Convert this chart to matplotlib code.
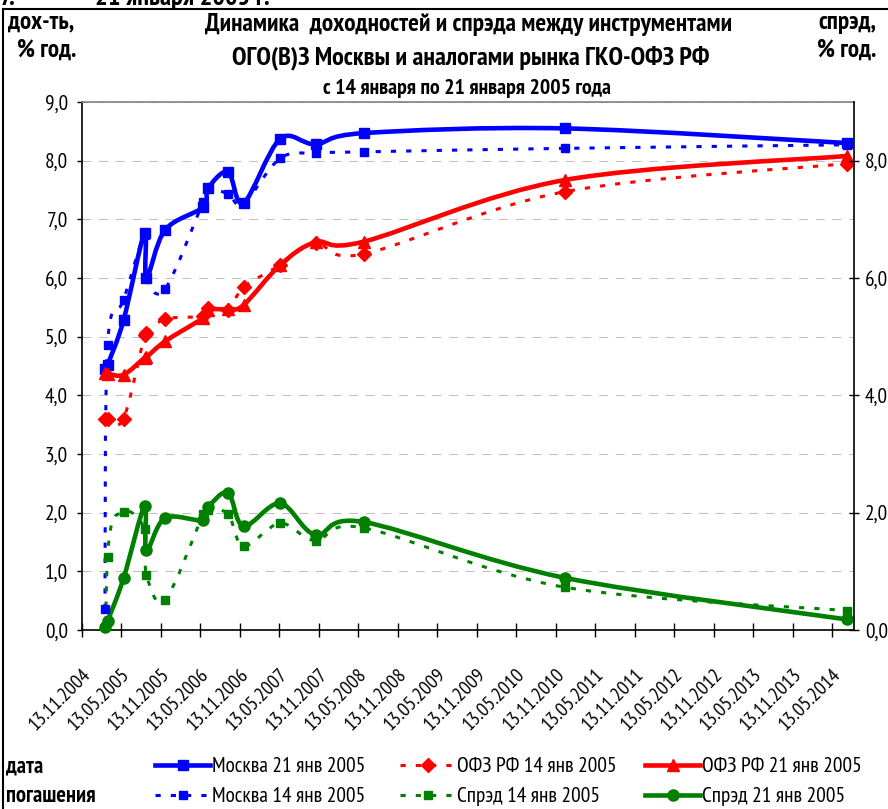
import matplotlib
matplotlib.use('Agg')
import matplotlib.pyplot as plt
import matplotlib.dates as mdates
from matplotlib.path import Path
from matplotlib.patches import PathPatch
from matplotlib.lines import Line2D
from matplotlib import font_manager
import matplotlib.transforms as mtransforms
import numpy as np
import pandas as pd

# ---------------- data ----------------
maturity_dates = ['2005-02-27', '2005-03-11', '2005-05-24', '2005-08-29', '2005-09-07',
                  '2005-12-02', '2006-05-27', '2006-06-19', '2006-09-19', '2006-11-30',
                  '2007-05-18', '2007-10-29', '2008-06-08', '2010-12-23', '2014-07-21']
moscow_21 = [4.45, 4.52, 5.28, 6.77, 6.00, 6.82, 7.21, 7.53, 7.81, 7.28, 8.37, 8.28, 8.47, 8.55, 8.30]
moscow_14 = [0.36, 4.86, 5.62, 6.73, 6.00, 5.81, 7.30, 7.53, 7.43, 7.27, 8.04, 8.13, 8.15, 8.21, 8.27]
ofz_14 = [3.60, 3.60, 3.60, 5.02, 5.06, 5.30, 5.35, 5.49, 5.46, 5.84, 6.22, 6.60, 6.41, 7.47, 7.95]
ofz_21 = [4.38, 4.37, 4.35, 4.64, 4.65, 4.92, 5.32, 5.46, 5.47, 5.54, 6.22, 6.61, 6.62, 7.67, 8.08]
spread_14 = [-3.25, 1.24, 2.01, 1.72, 0.94, 0.51, 1.97, 2.04, 1.98, 1.43, 1.82, 1.52, 1.74, 0.73, 0.33]
spread_21 = [0.05, 0.15, 0.88, 2.11, 1.36, 1.91, 1.87, 2.09, 2.34, 1.77, 2.16, 1.62, 1.84, 0.89, 0.18]

x_tick_labels = ['13.11.2004', '13.05.2005', '13.11.2005', '13.05.2006', '13.11.2006',
                 '13.05.2007', '13.11.2007', '13.05.2008', '13.11.2008', '13.05.2009',
                 '13.11.2009', '13.05.2010', '13.11.2010', '13.05.2011', '13.11.2011',
                 '13.05.2012', '13.11.2012', '13.05.2013', '13.11.2013', '13.05.2014']
x_min, x_max = '2004-11-13', '2014-08-22'
y_left_ticks = [0, 1, 2, 3, 4, 5, 6, 7, 8, 9]
y_right_ticks = [0, 2, 4, 6, 8]

# ---------------- fonts ----------------
names = {f.name for f in font_manager.fontManager.ttflist}
def pick(cands):
    for c in cands:
        if c in names:
            return c
    return 'DejaVu Sans'
NARROW = pick(['PT Sans Narrow', 'Roboto Condensed', 'Fira Sans Condensed', 'Liberation Sans'])
FAM = [NARROW, 'DejaVu Sans']
plt.rcParams['font.family'] = FAM

W, H = 888, 809
fig = plt.figure(figsize=(W / 100, H / 100), dpi=100)
renderer = fig.canvas.get_renderer()

def fx(px):
    return px / W

def fy(py):
    return 1 - py / H

def fit_size(s, target_px, weight='normal', base=20.0):
    t = fig.text(0, 0, s, fontsize=base, fontweight=weight, family=FAM)
    w = t.get_window_extent(renderer).width
    t.remove()
    return base * target_px / w

S_TITLE1 = fit_size('Динамика  доходностей и спрэда между инструментами', 528, 'bold')
S_TITLE2 = fit_size('ОГО(В)З Москвы и аналогами рынка ГКО-ОФЗ РФ', 478, 'bold')
S_TITLE3 = fit_size('с 14 января по 21 января 2005 года', 290, 'bold')
S_CORNER = fit_size('дох-ть,', 66, 'bold')
S_NOTE = fit_size('погашения', 90, 'bold')
S_LEG = fit_size('Москва 21 янв 2005', 153)
S_XT = fit_size('13.11.2004', 79)
S_YT = fit_size('9,0', 23)
S_TOP = fit_size('21 января 2005 г.', 175, 'bold')

ax = fig.add_axes([fx(82), fy(630), fx(854) - fx(82), fy(102) - fy(630)])
ax2 = ax.twinx()

xd = mdates.date2num(pd.to_datetime(maturity_dates))

def smooth_path(xs, ys):
    pts = np.column_stack([xs, ys]).astype(float)
    n = len(pts)
    verts = [pts[0]]
    codes = [Path.MOVETO]
    for i in range(n - 1):
        p0 = pts[max(i - 1, 0)]
        p1 = pts[i]
        p2 = pts[i + 1]
        p3 = pts[min(i + 2, n - 1)]
        c1 = p1 + (p2 - p0) / 6.0
        c2 = p2 - (p3 - p1) / 6.0
        verts += [c1, c2, p2]
        codes += [Path.CURVE4] * 3
    return Path(verts, codes)

BLUE, RED, GREEN = '#0000FF', '#FF0000', '#008000'
DOT = (0, (1.7, 3.3))

styles = [
    ('Москва 14 янв 2005', moscow_14, BLUE, 2.2, DOT, 's', 5.5),
    ('ОФЗ РФ 14 янв 2005', ofz_14, RED, 2.2, DOT, 'D', 7.5),
    ('Спрэд 14 янв 2005', spread_14, GREEN, 2.2, DOT, 's', 5.5),
    ('Москва 21 янв 2005', moscow_21, BLUE, 3.3, '-', 's', 6.5),
    ('ОФЗ РФ 21 янв 2005', ofz_21, RED, 3.3, '-', '^', 8.5),
    ('Спрэд 21 янв 2005', spread_21, GREEN, 3.3, '-', 'o', 8),
]
handles = {}
for label, vals, col, lw, ls, mk, ms in styles:
    patch = PathPatch(smooth_path(xd, vals), fill=False, edgecolor=col, lw=lw,
                      linestyle=ls, capstyle='butt', joinstyle='round', zorder=3)
    ax.add_patch(patch)
    y = np.array(vals, dtype=float)
    m = y >= 0
    ax.plot(xd[m], y[m], linestyle='none', marker=mk, ms=ms, color=col,
            mec=col, clip_on=False, zorder=4)
    handles[label] = Line2D([], [], color=col, lw=lw, linestyle=ls,
                            marker=mk, ms=ms, mec=col)

ax.set_xlim(mdates.date2num(pd.to_datetime(x_min)), mdates.date2num(pd.to_datetime(x_max)))
ax.set_ylim(0, 9)
ax2.set_ylim(0, 9)

tick_pos = mdates.date2num(pd.to_datetime(x_tick_labels, format='%d.%m.%Y'))
ax.set_xticks(tick_pos)
ax.set_xticklabels(x_tick_labels, rotation=45, ha='right', va='center',
                   rotation_mode='anchor', fontsize=S_XT)
ax.tick_params(axis='x', direction='inout', length=9.5, width=1, pad=25, colors='black')
offset = mtransforms.ScaledTranslation(6 / 100, 0, fig.dpi_scale_trans)
for lab in ax.get_xticklabels():
    lab.set_transform(lab.get_transform() + offset)

ax.set_yticks(y_left_ticks)
ax.set_yticklabels([f'{v:.1f}'.replace('.', ',') for v in y_left_ticks], fontsize=S_YT)
ax.tick_params(axis='y', direction='out', length=3.6, width=1, pad=6.5)

ax2.set_yticks(y_right_ticks)
ax2.set_yticklabels([f'{v:.1f}'.replace('.', ',') for v in y_right_ticks], fontsize=S_YT)
ax2.tick_params(axis='y', direction='inout', length=7.5, width=1, pad=4)

ax.grid(axis='y', color='#C0C0C0', linestyle=(0, (8.5, 7.5)), lw=0.75, zorder=0.5)
ax.set_axisbelow(True)

for s in ['left', 'bottom']:
    ax.spines[s].set_color('black')
    ax.spines[s].set_linewidth(1.2)
ax.spines['top'].set_color('#808080')
ax.spines['top'].set_linewidth(1.2)
ax.spines['right'].set_visible(False)
for s in ['left', 'bottom', 'top']:
    ax2.spines[s].set_visible(False)
ax2.spines['right'].set_color('black')
ax2.spines['right'].set_linewidth(1.2)

# ---------------- texts ----------------
bold = dict(fontweight='bold', color='black')
fig.text(fx(469), fy(25), 'Динамика  доходностей и спрэда между инструментами',
         ha='center', va='center', fontsize=S_TITLE1, **bold)
fig.text(fx(471), fy(58), 'ОГО(В)З Москвы и аналогами рынка ГКО-ОФЗ РФ',
         ha='center', va='center', fontsize=S_TITLE2, **bold)
fig.text(fx(467), fy(88), 'с 14 января по 21 января 2005 года',
         ha='center', va='center', fontsize=S_TITLE3, **bold)
fig.text(fx(8), fy(22), 'дох-ть,', ha='left', va='center', fontsize=S_CORNER, **bold)
fig.text(fx(17), fy(50), '% год.', ha='left', va='center', fontsize=S_CORNER, **bold)
fig.text(fx(876), fy(22), 'спрэд,', ha='right', va='center', fontsize=S_CORNER, **bold)
fig.text(fx(876), fy(50), '% год.', ha='right', va='center', fontsize=S_CORNER, **bold)
fig.text(fx(6), fy(767), 'дата', ha='left', va='center', fontsize=S_NOTE, **bold)
fig.text(fx(6), fy(797), 'погашения', ha='left', va='center', fontsize=S_NOTE, **bold)
# clipped heading line above the chart frame
fig.text(fx(0), fy(5), '7.', ha='left', va='baseline', fontsize=S_TOP, **bold)
fig.text(fx(95), fy(5), '21 января 2005 г.', ha='left', va='baseline', fontsize=S_TOP, **bold)

# chart frame
fig.add_artist(Line2D([fx(3), fx(3)], [fy(9), fy(809)], color='black', lw=1.5))
fig.add_artist(Line2D([fx(3), fx(888)], [fy(9), fy(9)], color='black', lw=1.5))

# ---------------- legend (one entry per cell, Excel layout) ----------------
leg_cells = [('Москва 21 янв 2005', 155, 767), ('ОФЗ РФ 14 янв 2005', 400, 767),
             ('ОФЗ РФ 21 янв 2005', 645, 767), ('Москва 14 янв 2005', 155, 797),
             ('Спрэд 14 янв 2005', 400, 797), ('Спрэд 21 янв 2005', 645, 797)]
fs_px = S_LEG * 100 / 72
for label, x0, y0 in leg_cells:
    fig.legend([handles[label]], [label], loc='center left',
               bbox_to_anchor=(fx(x0), fy(y0)), frameon=False, borderpad=0,
               borderaxespad=0, handlelength=55 / fs_px, handletextpad=2 / fs_px,
               prop={'family': FAM, 'size': S_LEG})

fig.savefig('out.png', dpi=100)
